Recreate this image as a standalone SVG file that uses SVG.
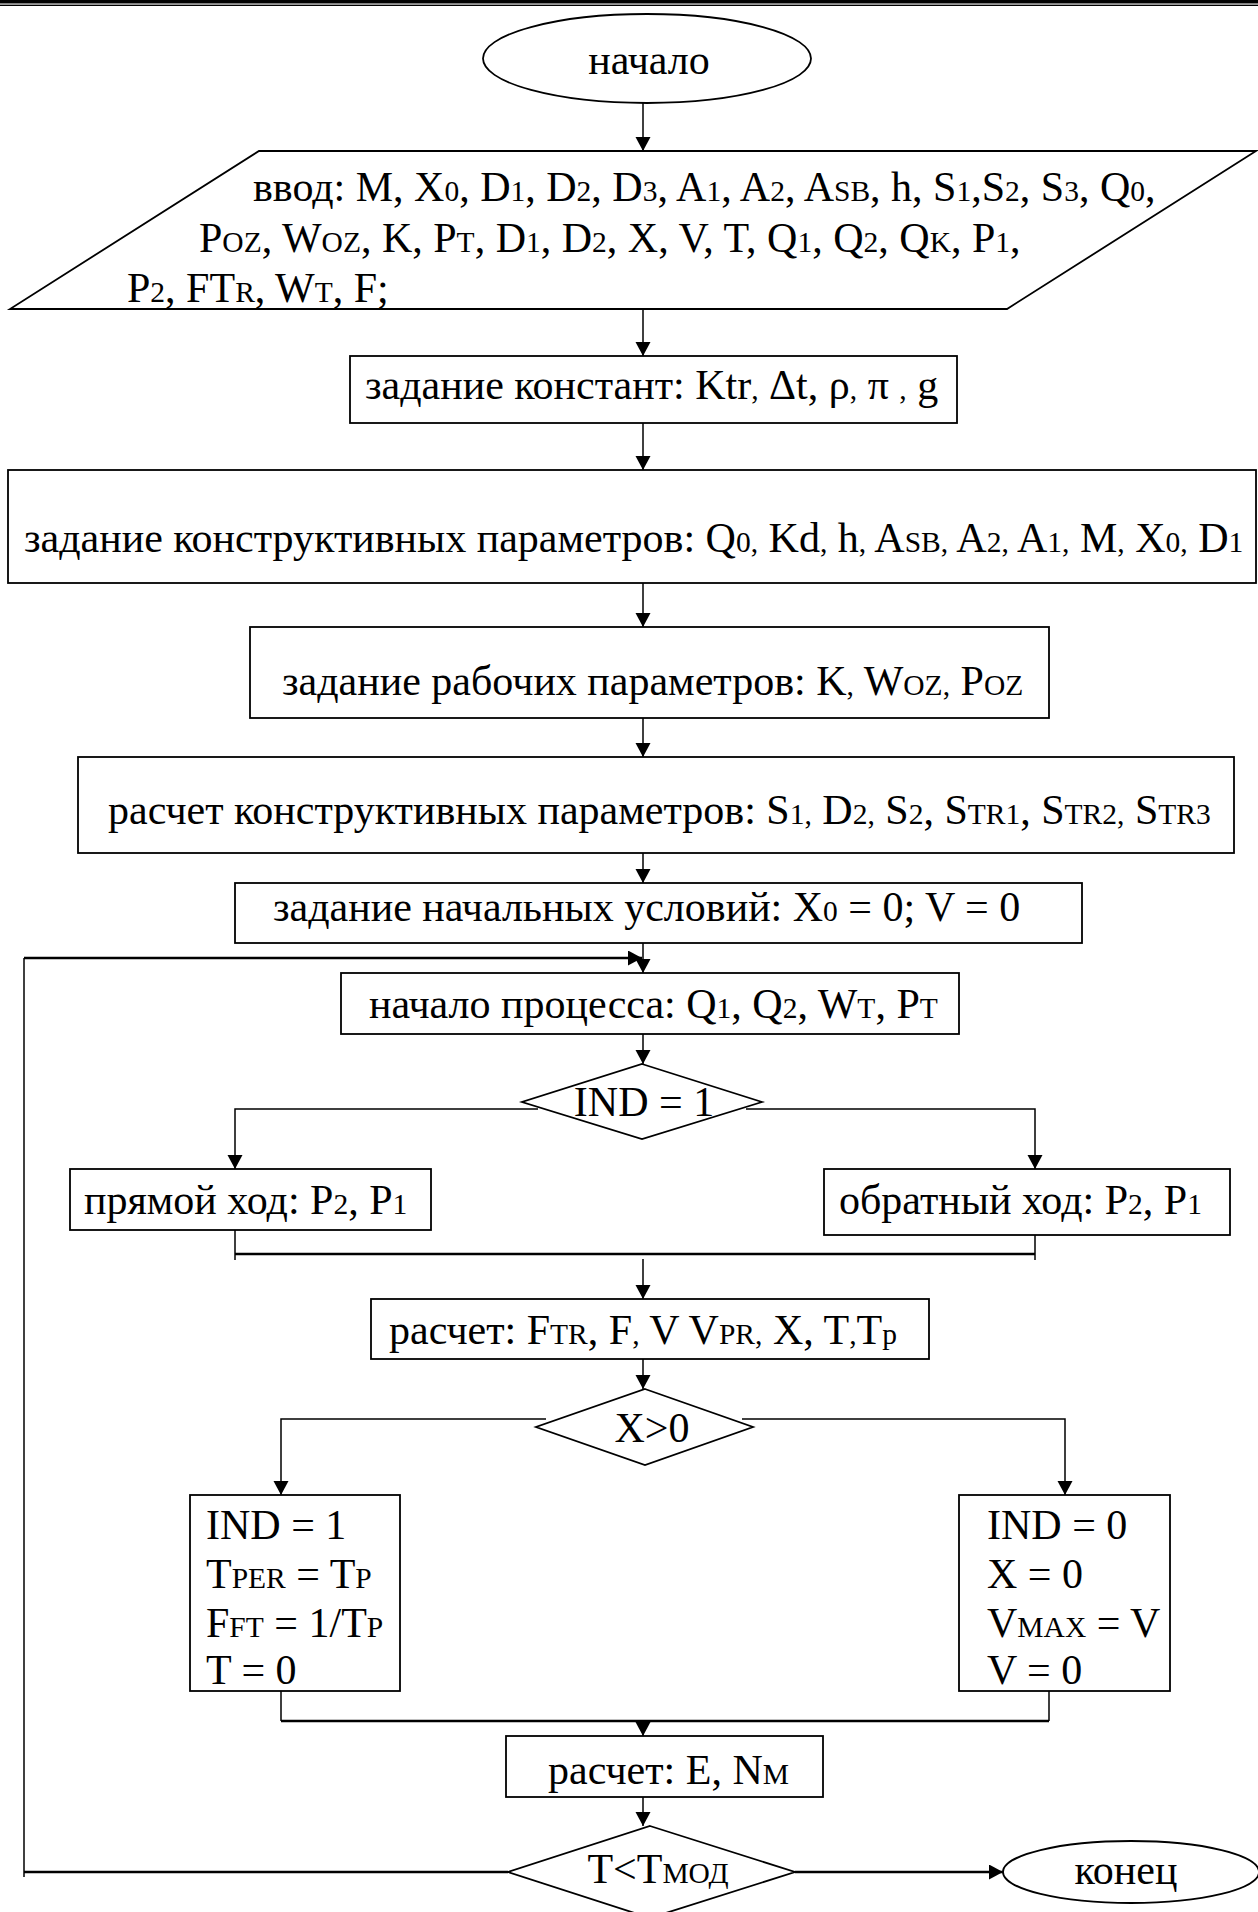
<svg xmlns="http://www.w3.org/2000/svg" width="1258" height="1912" viewBox="0 0 1258 1912">
<style>
text{font-family:"Liberation Serif","Times New Roman",serif;font-size:42px;fill:#000}
.s{font-size:29.5px}
.shape{fill:#fff;stroke:#000;stroke-width:1.8}
.c{fill:none;stroke:#000;stroke-width:1.5}
.ct{fill:none;stroke:#000;stroke-width:2.5}
.m{text-anchor:middle}
</style>
<defs>
<marker id="ah" markerUnits="userSpaceOnUse" markerWidth="16" markerHeight="16" refX="14" refY="7.5" orient="auto">
<path d="M0,0 L14,7.5 L0,15 Z" fill="#000"/>
</marker>
</defs>
<rect x="0" y="0" width="1258" height="3.5" fill="#000"/>
<rect x="0" y="4.6" width="1258" height="1.4" fill="#000"/>

<g id="connectors">
<path class="c" d="M643,103 V151" marker-end="url(#ah)"/>
<path class="c" d="M643,309 V356" marker-end="url(#ah)"/>
<path class="c" d="M643,423 V470" marker-end="url(#ah)"/>
<path class="c" d="M643,583 V627" marker-end="url(#ah)"/>
<path class="c" d="M643,718 V757" marker-end="url(#ah)"/>
<path class="c" d="M643,853 V883" marker-end="url(#ah)"/>
<path class="c" d="M643,943 V973" marker-end="url(#ah)"/>
<path class="c" d="M24,1877 V958" />
<path class="ct" d="M24,958 H642" marker-end="url(#ah)"/>
<path class="c" d="M643,1034 V1064" marker-end="url(#ah)"/>
<path class="c" d="M538,1109 H235 V1169" marker-end="url(#ah)"/>
<path class="c" d="M746,1109 H1035 V1169" marker-end="url(#ah)"/>
<path class="c" d="M235,1230 V1260 M1035,1235 V1260"/>
<path class="ct" d="M235,1254 H1035"/>
<path class="c" d="M643,1259 V1299" marker-end="url(#ah)"/>
<path class="c" d="M643,1359 V1389" marker-end="url(#ah)"/>
<path class="c" d="M546,1419 H281 V1495" marker-end="url(#ah)"/>
<path class="c" d="M742,1419 H1065 V1495" marker-end="url(#ah)"/>
<path class="c" d="M281,1691 V1721 M1049,1691 V1721"/>
<path class="ct" d="M281,1721 H1049"/>
<path class="c" d="M643,1721 V1736" marker-end="url(#ah)"/>
<path class="c" d="M643,1797 V1826" marker-end="url(#ah)"/>
<path class="ct" d="M508,1872 H24"/>
<path class="ct" d="M795,1872 H1003" marker-end="url(#ah)"/>
</g>

<g id="start">
<ellipse class="shape" cx="647" cy="58.5" rx="164" ry="44.5"/>
<text x="649" y="74" class="m">начало</text>
</g>

<g id="input">
<polygon class="shape" points="259,151 1256,151 1007,309 10,309"/>
<text x="253" y="201">ввод: M, X<tspan class="s">0</tspan>, D<tspan class="s">1</tspan>, D<tspan class="s">2</tspan>, D<tspan class="s">3</tspan>, A<tspan class="s">1</tspan>, A<tspan class="s">2</tspan>, A<tspan class="s">SB</tspan>, h, S<tspan class="s">1</tspan>,S<tspan class="s">2</tspan>, S<tspan class="s">3</tspan>, Q<tspan class="s">0</tspan>,</text>
<text x="199" y="252">P<tspan class="s">OZ</tspan>, W<tspan class="s">OZ</tspan>, K, P<tspan class="s">T</tspan>, D<tspan class="s">1</tspan>, D<tspan class="s">2</tspan>, X, V, T, Q<tspan class="s">1</tspan>, Q<tspan class="s">2</tspan>, Q<tspan class="s">K</tspan>, P<tspan class="s">1</tspan>,</text>
<text x="127" y="302">P<tspan class="s">2</tspan>, FT<tspan class="s">R</tspan>, W<tspan class="s">T</tspan>,  F;</text>
</g>

<g id="constants">
<rect class="shape" x="350" y="356" width="607" height="67"/>
<text x="365" y="399">задание констант: Ktr<tspan class="s">,</tspan> Δt, ρ<tspan class="s">,</tspan> π <tspan class="s">,</tspan> g</text>
</g>

<g id="design-params">
<rect class="shape" x="8" y="470" width="1248" height="113"/>
<text x="24" y="552">задание конструктивных параметров: Q<tspan class="s">0,</tspan> Kd<tspan class="s">,</tspan> h<tspan class="s">,</tspan> A<tspan class="s">SB,</tspan> A<tspan class="s">2,</tspan> A<tspan class="s">1,</tspan> M<tspan class="s">,</tspan> X<tspan class="s">0,</tspan> D<tspan class="s">1</tspan></text>
</g>

<g id="work-params">
<rect class="shape" x="250" y="627" width="799" height="91"/>
<text x="282" y="695">задание рабочих параметров: K<tspan class="s">,</tspan> W<tspan class="s">OZ,</tspan> P<tspan class="s">OZ</tspan></text>
</g>

<g id="calc-design">
<rect class="shape" x="78" y="757" width="1156" height="96"/>
<text x="108" y="824">расчет конструктивных параметров: S<tspan class="s">1,</tspan> D<tspan class="s">2,</tspan> S<tspan class="s">2</tspan>, S<tspan class="s">TR1</tspan>, S<tspan class="s">TR2,</tspan> S<tspan class="s">TR3</tspan></text>
</g>

<g id="init">
<rect class="shape" x="235" y="883" width="847" height="60"/>
<text x="273" y="921">задание начальных условий: X<tspan class="s">0</tspan> = 0; V = 0</text>
</g>

<g id="process">
<rect class="shape" x="341" y="973" width="618" height="61"/>
<text x="369" y="1018">начало процесса: Q<tspan class="s">1</tspan>, Q<tspan class="s">2</tspan>, W<tspan class="s">T</tspan>, P<tspan class="s">T</tspan></text>
</g>

<g id="ind-check">
<polygon class="shape" points="642,1064 762,1102 642,1139 522,1102"/>
<text x="644" y="1116" class="m">IND = 1</text>
</g>

<g id="forward">
<rect class="shape" x="70" y="1169" width="361" height="61"/>
<text x="84" y="1214">прямой ход: P<tspan class="s">2</tspan>, P<tspan class="s">1</tspan></text>
</g>

<g id="backward">
<rect class="shape" x="824" y="1169" width="406" height="66"/>
<text x="839" y="1214">обратный ход: P<tspan class="s">2</tspan>, P<tspan class="s">1</tspan></text>
</g>

<g id="calc1">
<rect class="shape" x="371" y="1299" width="558" height="60"/>
<text x="389" y="1344">расчет: F<tspan class="s">TR</tspan>, F<tspan class="s">,</tspan> V V<tspan class="s">PR,</tspan> X, T<tspan class="s">,</tspan>T<tspan class="s">p</tspan></text>
</g>

<g id="x-check">
<polygon class="shape" points="645,1389 753,1427 645,1465 536,1427"/>
<text x="652" y="1442" class="m">X&gt;0</text>
</g>

<g id="left-block">
<rect class="shape" x="190" y="1495" width="210" height="196"/>
<text x="206" y="1539">IND = 1</text>
<text x="206" y="1588">T<tspan class="s">PER</tspan> = T<tspan class="s">P</tspan></text>
<text x="206" y="1637">F<tspan class="s">FT</tspan> = 1/T<tspan class="s">P</tspan></text>
<text x="206" y="1684">T = 0</text>
</g>

<g id="right-block">
<rect class="shape" x="959" y="1495" width="211" height="196"/>
<text x="987" y="1539">IND = 0</text>
<text x="987" y="1588">X = 0</text>
<text x="987" y="1637">V<tspan class="s">MAX</tspan> = V</text>
<text x="987" y="1684">V = 0</text>
</g>

<g id="calc2">
<rect class="shape" x="506" y="1736" width="317" height="61"/>
<text x="548" y="1784">расчет: E, N<tspan class="s">M</tspan></text>
</g>

<g id="t-check">
<polygon class="shape" points="650,1826 795,1872 650,1918 508,1872"/>
<text x="658" y="1883" class="m">T&lt;T<tspan class="s">МОД</tspan></text>
</g>

<g id="end">
<ellipse class="shape" cx="1131" cy="1872" rx="128" ry="31"/>
<text x="1126" y="1884" class="m">конец</text>
</g>
</svg>
